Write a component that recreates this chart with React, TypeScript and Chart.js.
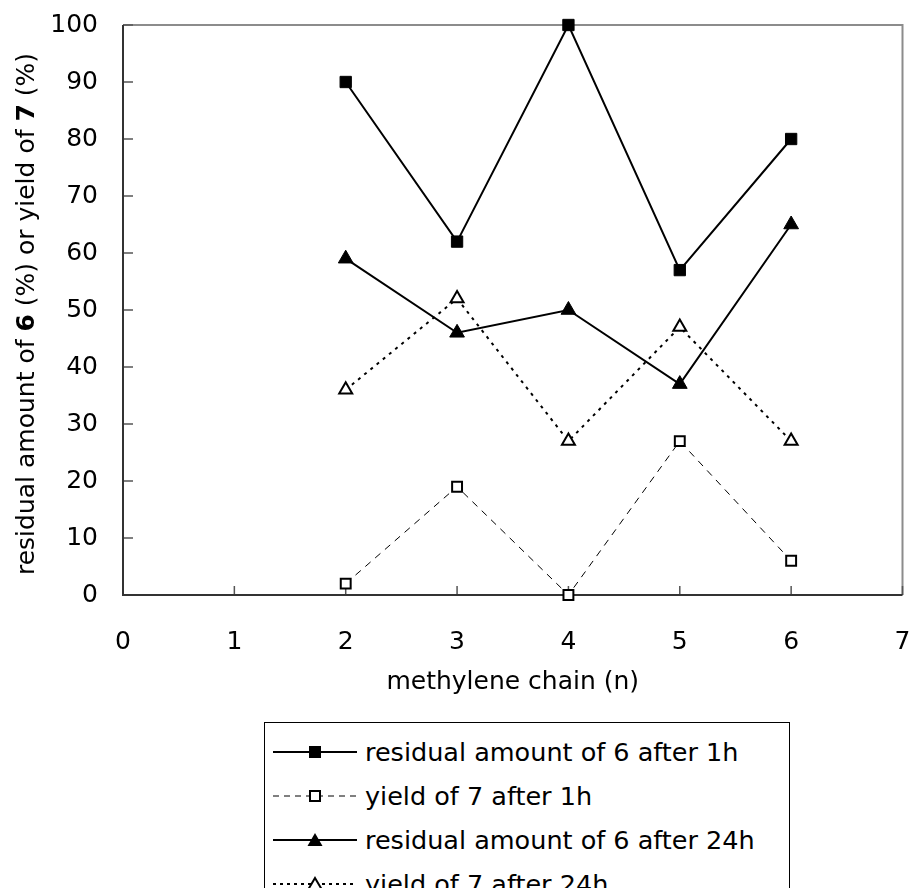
import React, { useEffect, useRef } from 'react';
import { Chart, registerables } from 'chart.js';

Chart.register(...registerables);

// ---- data ----
const chainLengths = [2, 3, 4, 5, 6];
const residual6After1h = [90, 62, 100, 57, 80];
const yield7After1h = [2, 19, 0, 27, 6];
const residual6After24h = [59, 46, 50, 37, 65];
const yield7After24h = [36, 52, 27, 47, 27];
const seriesLabels = [
  'residual amount of 6 after 1h',
  'yield of 7 after 1h',
  'residual amount of 6 after 24h',
  'yield of 7 after 24h',
];
const xTickValues = [0, 1, 2, 3, 4, 5, 6, 7];
const yTickValues = [0, 10, 20, 30, 40, 50, 60, 70, 80, 90, 100];
const xTitle = 'methylene chain (n)';
const yTitleParts = [
  { text: 'residual amount of ', bold: false },
  { text: '6', bold: true },
  { text: ' (%) or yield of ', bold: false },
  { text: '7', bold: true },
  { text: ' (%)', bold: false },
];

const FONT = "'DejaVu Sans', 'Noto Sans', sans-serif";

const framePlugin = {
  id: 'frame',
  beforeDatasetsDraw(chart: any) {
    const { ctx, chartArea, scales } = chart;
    const { left, right, top, bottom } = chartArea;
    const x = scales.x;
    const y = scales.y;
    ctx.save();
    ctx.lineCap = 'butt';
    // top & right border (grey)
    ctx.strokeStyle = '#8c8c8c';
    ctx.lineWidth = 2;
    ctx.beginPath();
    ctx.moveTo(left, top);
    ctx.lineTo(right, top);
    ctx.lineTo(right, bottom);
    ctx.stroke();
    // inward ticks
    ctx.strokeStyle = '#555';
    ctx.lineWidth = 1.5;
    ctx.beginPath();
    yTickValues.forEach((v) => {
      const py = y.getPixelForValue(v);
      ctx.moveTo(left, py);
      ctx.lineTo(left + 10, py);
    });
    xTickValues.forEach((v) => {
      const px = x.getPixelForValue(v);
      ctx.moveTo(px, bottom);
      ctx.lineTo(px, bottom - 9);
    });
    ctx.stroke();
    // left & bottom axes (dark)
    ctx.strokeStyle = '#333';
    ctx.lineWidth = 2;
    ctx.beginPath();
    ctx.moveTo(left, top);
    ctx.lineTo(left, bottom);
    ctx.lineTo(right, bottom);
    ctx.stroke();
    ctx.restore();
  },
  afterDraw(chart: any) {
    const { ctx, chartArea } = chart;
    const { left, right, top, bottom } = chartArea;
    ctx.save();
    ctx.fillStyle = '#000';
    // x title
    ctx.font = `25px ${FONT}`;
    ctx.textAlign = 'center';
    ctx.textBaseline = 'alphabetic';
    ctx.fillText(xTitle, (left + right) / 2, 689);
    // y title (mixed bold)
    const fonts = yTitleParts.map((p) => (p.bold ? `bold 25px ${FONT}` : `25px ${FONT}`));
    let total = 0;
    const widths = yTitleParts.map((p, i) => {
      ctx.font = fonts[i];
      const w = ctx.measureText(p.text).width;
      total += w;
      return w;
    });
    ctx.translate(34, (top + bottom) / 2 + 4);
    ctx.rotate(-Math.PI / 2);
    ctx.textAlign = 'left';
    let cx = -total / 2;
    yTitleParts.forEach((p, i) => {
      ctx.font = fonts[i];
      ctx.fillText(p.text, cx, 0);
      cx += widths[i];
    });
    ctx.restore();
  },
};

function LegendSample({ kind }: { kind: number }) {
  const w = 84;
  const h = 24;
  const cy = h / 2;
  const cx = 42;
  const line =
    kind === 0 || kind === 2 ? (
      <line x1={0} y1={cy} x2={w} y2={cy} stroke="#000" strokeWidth={2} />
    ) : kind === 1 ? (
      <line x1={0} y1={cy} x2={w} y2={cy} stroke="#000" strokeWidth={1} strokeDasharray="6 5" />
    ) : (
      <line x1={0} y1={cy} x2={w} y2={cy} stroke="#000" strokeWidth={2} strokeDasharray="3 4" />
    );
  let marker;
  if (kind === 0) marker = <rect x={cx - 6} y={cy - 6} width={12} height={12} fill="#000" />;
  else if (kind === 1)
    marker = <rect x={cx - 5} y={cy - 5} width={10} height={10} fill="#fff" stroke="#000" strokeWidth={2} />;
  else if (kind === 2)
    marker = <polygon points={`${cx},${cy - 7} ${cx + 7.5},${cy + 6} ${cx - 7.5},${cy + 6}`} fill="#000" />;
  else
    marker = (
      <polygon
        points={`${cx},${cy - 6} ${cx + 6.5},${cy + 5} ${cx - 6.5},${cy + 5}`}
        fill="#fff"
        stroke="#000"
        strokeWidth={2}
      />
    );
  return (
    <svg width={w} height={h} style={{ display: 'block', flex: '0 0 auto' }}>
      {line}
      {marker}
    </svg>
  );
}

export default function App() {
  const canvasRef = useRef<HTMLCanvasElement | null>(null);

  useEffect(() => {
    document.body.style.margin = '0';
    const canvas = canvasRef.current;
    if (!canvas) return;
    const pts = (vals: number[]) => chainLengths.map((n, i) => ({ x: n, y: vals[i] }));
    const chart = new Chart(canvas, {
      type: 'line',
      data: {
        datasets: [
          {
            label: seriesLabels[0],
            data: pts(residual6After1h),
            borderColor: '#000',
            borderWidth: 2,
            pointStyle: 'rect',
            pointRadius: 8,
            pointBackgroundColor: '#000',
            pointBorderColor: '#000',
            pointBorderWidth: 1,
            clip: false,
          },
          {
            label: seriesLabels[1],
            data: pts(yield7After1h),
            borderColor: '#000',
            borderWidth: 1,
            borderDash: [7, 6],
            pointStyle: 'rect',
            pointRadius: 7,
            pointBackgroundColor: '#fff',
            pointBorderColor: '#000',
            pointBorderWidth: 2,
            clip: false,
          },
          {
            label: seriesLabels[2],
            data: pts(residual6After24h),
            borderColor: '#000',
            borderWidth: 2,
            pointStyle: 'triangle',
            pointRadius: 8.5,
            pointBackgroundColor: '#000',
            pointBorderColor: '#000',
            pointBorderWidth: 1,
            clip: false,
          },
          {
            label: seriesLabels[3],
            data: pts(yield7After24h),
            borderColor: '#000',
            borderWidth: 2,
            borderDash: [3, 5],
            pointStyle: 'triangle',
            pointRadius: 7.5,
            pointBackgroundColor: '#fff',
            pointBorderColor: '#000',
            pointBorderWidth: 2,
            clip: false,
          },
        ] as any,
      },
      options: {
        animation: false,
        responsive: false,
        maintainAspectRatio: false,
        devicePixelRatio: 1,
        events: [],
        layout: { padding: { top: 25, right: 9, left: 0, bottom: 0 } },
        plugins: { legend: { display: false }, tooltip: { enabled: false } },
        elements: { line: { tension: 0 } },
        scales: {
          x: {
            type: 'linear',
            min: 0,
            max: 7,
            grid: {
              display: true,
              drawOnChartArea: false,
              drawTicks: true,
              tickLength: 32,
              color: 'rgba(0,0,0,0)',
            },
            border: { display: false },
            ticks: {
              stepSize: 1,
              padding: 0,
              color: '#000',
              font: { family: FONT, size: 25 },
            },
            afterFit(scale: any) {
              scale.height = 105;
            },
          },
          y: {
            min: 0,
            max: 100,
            grid: {
              display: true,
              drawOnChartArea: false,
              drawTicks: true,
              tickLength: 25,
              color: 'rgba(0,0,0,0)',
            },
            border: { display: false },
            ticks: {
              stepSize: 10,
              padding: 0,
              color: '#000',
              font: { family: FONT, size: 25 },
            },
            afterFit(scale: any) {
              scale.width = 123;
            },
          },
        },
      } as any,
      plugins: [framePlugin],
    });
    return () => chart.destroy();
  }, []);

  return (
    <div style={{ position: 'relative', width: 912, height: 888, overflow: 'hidden', background: '#fff' }}>
      <canvas
        ref={canvasRef}
        width={912}
        height={700}
        style={{ position: 'absolute', left: 0, top: 0, width: 912, height: 700 }}
      />
      <div
        style={{
          position: 'absolute',
          left: 264,
          top: 722,
          width: 526,
          height: 200,
          boxSizing: 'border-box',
          border: '1px solid #000',
          background: '#fff',
          paddingTop: 7,
          fontFamily: FONT,
          fontSize: 25.5,
          color: '#000',
        }}
      >
        {seriesLabels.map((label, i) => (
          <div key={label} style={{ display: 'flex', alignItems: 'center', height: 44, paddingLeft: 8 }}>
            <LegendSample kind={i} />
            <span style={{ marginLeft: 8, whiteSpace: 'nowrap', lineHeight: '44px' }}>{label}</span>
          </div>
        ))}
      </div>
    </div>
  );
}
